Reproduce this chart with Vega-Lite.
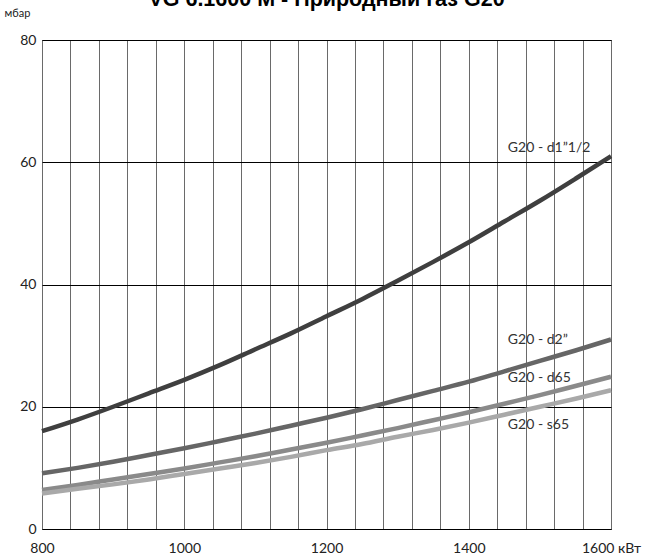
{
  "$schema": "https://vega.github.io/schema/vega-lite/v6.json",
  "width": 569,
  "height": 489,
  "autosize": {"type": "none"},
  "padding": {"left": 42, "top": 40, "right": 41, "bottom": 31},
  "title": {
    "text": "VG 6.1600 M - Природный газ G20",
    "font": "Liberation Sans",
    "fontSize": 21.5,
    "fontWeight": "bold",
    "color": "#000",
    "anchor": "middle",
    "frame": "group",
    "baseline": "alphabetic",
    "offset": 0,
    "dy": 20
  },
  "config": {
    "view": {"stroke": "#111", "strokeWidth": 1}
  },
  "datasets": {
    "curves": [
      {"q": 800, "p": 16.0, "s": "d1"}, {"q": 850, "p": 17.9, "s": "d1"}, {"q": 900, "p": 20.0, "s": "d1"}, {"q": 950, "p": 22.2, "s": "d1"},
      {"q": 1000, "p": 24.4, "s": "d1"}, {"q": 1050, "p": 26.8, "s": "d1"}, {"q": 1100, "p": 29.4, "s": "d1"}, {"q": 1150, "p": 32.0, "s": "d1"},
      {"q": 1200, "p": 34.8, "s": "d1"}, {"q": 1250, "p": 37.6, "s": "d1"}, {"q": 1300, "p": 40.6, "s": "d1"}, {"q": 1350, "p": 43.7, "s": "d1"},
      {"q": 1400, "p": 46.9, "s": "d1"}, {"q": 1450, "p": 50.3, "s": "d1"}, {"q": 1500, "p": 53.7, "s": "d1"}, {"q": 1550, "p": 57.3, "s": "d1"},
      {"q": 1600, "p": 61.0, "s": "d1"},
      {"q": 800, "p": 9.1, "s": "d2"}, {"q": 850, "p": 10.0, "s": "d2"}, {"q": 900, "p": 11.0, "s": "d2"}, {"q": 950, "p": 12.1, "s": "d2"},
      {"q": 1000, "p": 13.2, "s": "d2"}, {"q": 1050, "p": 14.4, "s": "d2"}, {"q": 1100, "p": 15.6, "s": "d2"}, {"q": 1150, "p": 16.9, "s": "d2"},
      {"q": 1200, "p": 18.2, "s": "d2"}, {"q": 1250, "p": 19.6, "s": "d2"}, {"q": 1300, "p": 21.1, "s": "d2"}, {"q": 1350, "p": 22.6, "s": "d2"},
      {"q": 1400, "p": 24.1, "s": "d2"}, {"q": 1450, "p": 25.8, "s": "d2"}, {"q": 1500, "p": 27.5, "s": "d2"}, {"q": 1550, "p": 29.2, "s": "d2"},
      {"q": 1600, "p": 31.0, "s": "d2"},
      {"q": 800, "p": 6.4, "s": "d65"}, {"q": 850, "p": 7.2, "s": "d65"}, {"q": 900, "p": 8.1, "s": "d65"}, {"q": 950, "p": 9.0, "s": "d65"},
      {"q": 1000, "p": 9.9, "s": "d65"}, {"q": 1050, "p": 10.9, "s": "d65"}, {"q": 1100, "p": 11.9, "s": "d65"}, {"q": 1150, "p": 13.0, "s": "d65"},
      {"q": 1200, "p": 14.1, "s": "d65"}, {"q": 1250, "p": 15.3, "s": "d65"}, {"q": 1300, "p": 16.5, "s": "d65"}, {"q": 1350, "p": 17.8, "s": "d65"},
      {"q": 1400, "p": 19.1, "s": "d65"}, {"q": 1450, "p": 20.5, "s": "d65"}, {"q": 1500, "p": 21.9, "s": "d65"}, {"q": 1550, "p": 23.4, "s": "d65"},
      {"q": 1600, "p": 24.9, "s": "d65"},
      {"q": 800, "p": 5.8, "s": "s65"}, {"q": 850, "p": 6.6, "s": "s65"}, {"q": 900, "p": 7.3, "s": "s65"}, {"q": 950, "p": 8.1, "s": "s65"},
      {"q": 1000, "p": 9.0, "s": "s65"}, {"q": 1050, "p": 9.9, "s": "s65"}, {"q": 1100, "p": 10.8, "s": "s65"}, {"q": 1150, "p": 11.8, "s": "s65"},
      {"q": 1200, "p": 12.9, "s": "s65"}, {"q": 1250, "p": 13.9, "s": "s65"}, {"q": 1300, "p": 15.1, "s": "s65"}, {"q": 1350, "p": 16.2, "s": "s65"},
      {"q": 1400, "p": 17.4, "s": "s65"}, {"q": 1450, "p": 18.7, "s": "s65"}, {"q": 1500, "p": 20.0, "s": "s65"}, {"q": 1550, "p": 21.3, "s": "s65"},
      {"q": 1600, "p": 22.7, "s": "s65"}
    ],
    "labels": [
      {"q": 1455, "p": 62.4, "label": "G20 - d1”1/2"},
      {"q": 1455, "p": 30.9, "label": "G20 - d2”"},
      {"q": 1455, "p": 24.7, "label": "G20 - d65"},
      {"q": 1455, "p": 17.0, "label": "G20 - s65"}
    ]
  },
  "encoding": {
    "x": {
      "field": "q", "type": "quantitative",
      "scale": {"domain": [800, 1600], "nice": false, "zero": false},
      "axis": {
        "values": [800, 840, 880, 920, 960, 1000, 1040, 1080, 1120, 1160, 1200, 1240, 1280, 1320, 1360, 1400, 1440, 1480, 1520, 1560, 1600],
        "format": "d",
        "labelExpr": "datum.value % 200 == 0 ? (datum.value == 1600 ? '1600 кВт' : datum.label) : ''",
        "grid": true, "gridColor": "#6a6a6a", "gridWidth": 1,
        "ticks": false, "domain": false,
        "labelFlush": false, "labelOverlap": false, "labelBound": false,
        "labelFont": "Lato", "labelFontSize": 14, "labelColor": "#222",
        "labelPadding": 12,
        "title": null
      }
    },
    "y": {
      "field": "p", "type": "quantitative",
      "scale": {"domain": [0, 80], "nice": false},
      "axis": {
        "values": [0, 20, 40, 60, 80],
        "grid": true, "gridColor": "#000", "gridWidth": 1,
        "ticks": false, "domain": false,
        "labelFont": "Lato", "labelFontSize": 14, "labelColor": "#222",
        "labelPadding": 6,
        "title": "мбар",
        "titleAngle": 0, "titleX": -38, "titleY": -27,
        "titleAlign": "left", "titleBaseline": "middle",
        "titleFont": "Lato", "titleFontSize": 11, "titleFontWeight": "normal", "titleColor": "#222"
      }
    }
  },
  "layer": [
    {
      "data": {"name": "curves"},
      "mark": {"type": "line", "strokeWidth": 4.5, "interpolate": "monotone", "strokeCap": "butt"},
      "encoding": {
        "color": {
          "field": "s", "type": "nominal",
          "scale": {"domain": ["d1", "d2", "d65", "s65"], "range": ["#3f3f3f", "#666666", "#8a8a8a", "#a9a9a9"]},
          "legend": null
        },
        "order": {"field": "q"}
      }
    },
    {
      "data": {"name": "labels"},
      "mark": {"type": "text", "align": "left", "baseline": "middle", "font": "Lato", "fontSize": 14, "color": "#333"},
      "encoding": {
        "text": {"field": "label"}
      }
    }
  ]
}
